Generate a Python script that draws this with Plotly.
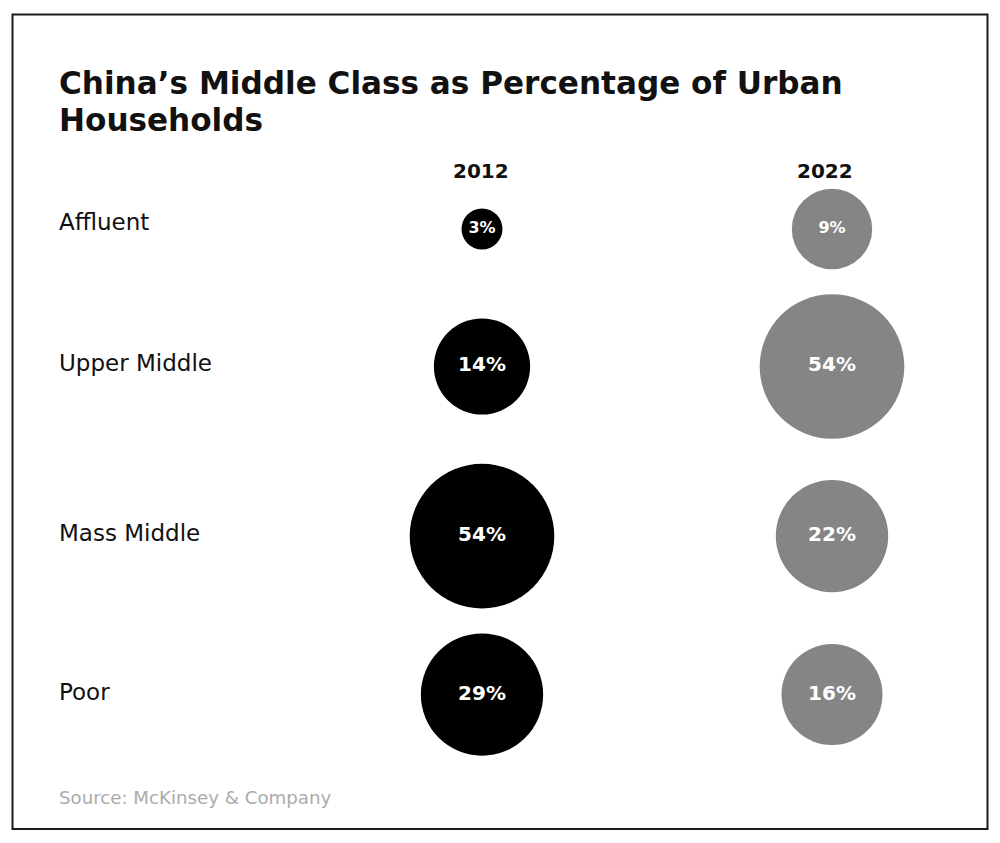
import math
import plotly.graph_objects as go

# ---- data ----
categories = ["Affluent", "Upper Middle", "Mass Middle", "Poor"]
years = ["2012", "2022"]
values_2012 = [3, 14, 54, 29]
values_2022 = [9, 54, 22, 16]
title_lines = ["China’s Middle Class as Percentage of Urban", "Households"]
source_text = "Source: McKinsey & Company"

# page body has an 8px margin; figure sized to fit the 1000x843 window
OFF = 8
W, H = 1000 - 2 * OFF, 843 - 2 * OFF
FONT = "DejaVu Sans"


def px(s):  # screen x -> paper
    return (s - OFF) / W


def py(s):  # screen y -> paper
    return 1 - (s - OFF) / H


def diameter(v):
    # log-scaled bubble diameter (px)
    return 35.85 * math.log(v) + 1.6


# stack rows vertically from their largest bubble
row_max = [max(diameter(a), diameter(b)) for a, b in zip(values_2012, values_2022)]
first_center, gap = 229, 25
row_y = [first_center]
for i in range(1, len(categories)):
    row_y.append(row_y[-1] + row_max[i - 1] / 2 + row_max[i] / 2 + gap)

colors = {"2012": "#000000", "2022": "#858585"}

fig = go.Figure()
for yr, vals in zip(years, [values_2012, values_2022]):
    fig.add_trace(go.Scatter(
        x=[yr] * len(vals),
        y=row_y,
        mode="markers+text",
        marker=dict(size=[diameter(v) for v in vals], color=colors[yr],
                    sizemode="diameter", opacity=1, line=dict(width=0)),
        text=[f"{v}%" for v in vals],
        textposition="middle center",
        textfont=dict(family=FONT, color="white", weight="bold",
                      size=[16 if v < 10 else 20 for v in vals]),
        hoverinfo="skip",
        showlegend=False,
        cliponaxis=False,
    ))

annotations = []
for cat, y in zip(categories, row_y):
    annotations.append(dict(
        text=cat, xref="paper", x=px(57), xanchor="left",
        yref="y", y=y, yanchor="middle", yshift=3 if cat != "Affluent" else 7,
        showarrow=False, font=dict(family=FONT, size=23, color="#111111"),
    ))
for i, (yr, dx) in enumerate(zip(years, [-1, -7.5])):
    annotations.append(dict(
        text=yr, xref="x", x=i, xanchor="center", xshift=dx,
        yref="y", y=171, yanchor="middle",
        showarrow=False, font=dict(family=FONT, size=20, color="#111111", weight="bold"),
    ))
for line, yc in zip(title_lines, [82.5, 120]):
    annotations.append(dict(
        text=line, xref="paper", x=px(57), xanchor="left",
        yref="y", y=yc, yanchor="middle",
        showarrow=False, font=dict(family=FONT, size=31.1, color="#111111", weight="bold"),
    ))
annotations.append(dict(
    text=source_text, xref="paper", x=px(57), xanchor="left",
    yref="y", y=797, yanchor="middle",
    showarrow=False, font=dict(family=FONT, size=18.2, color="#ababab"),
))

cx0, cdx = 482, 350  # screen x of first column, column spacing
fig.update_layout(
    width=W, height=H,
    margin=dict(l=0, r=0, t=0, b=0),
    paper_bgcolor="white", plot_bgcolor="white",
    xaxis=dict(type="category", categoryorder="array", categoryarray=years,
               range=[-(cx0 - OFF) / cdx, (W - (cx0 - OFF)) / cdx],
               visible=False, fixedrange=True),
    yaxis=dict(range=[H + OFF, OFF], visible=False, fixedrange=True),
    annotations=annotations,
    shapes=[dict(type="rect", xref="paper", yref="paper",
                 x0=px(12.5), x1=px(987.5), y0=py(829), y1=py(14.5),
                 line=dict(color="#1a1a1a", width=2))],
)

fig.write_html("out.html")
